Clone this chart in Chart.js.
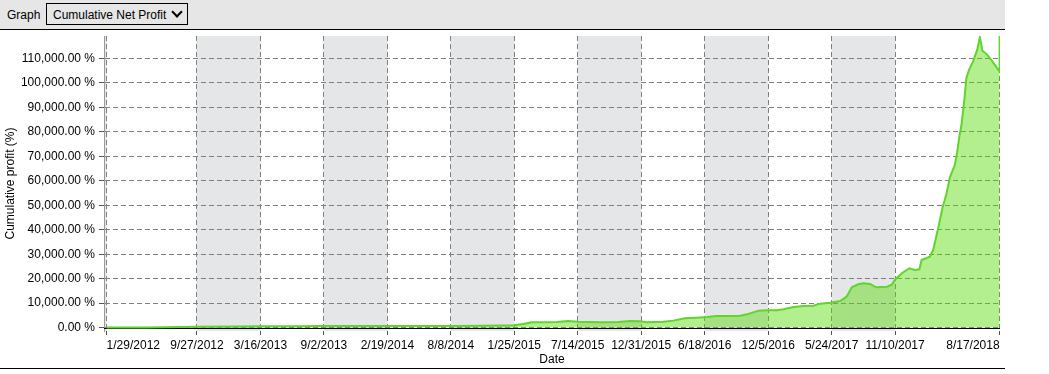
<!DOCTYPE html>
<html lang="en">
<head>
    <meta charset="UTF-8">
    <title>Cumulative Net Profit</title>
    <script src="https://cdn.jsdelivr.net/npm/chart.js"></script>
    <style>
        body { margin: 0; background: #fff; font-family: "Liberation Sans", Arial, sans-serif; font-size: 12px; color: #000; }
        .toolbar { position: absolute; left: 0; top: 0; width: 1005px; height: 29px; background: #e6e6e6; border-bottom: 1px solid #000; }
        .toolbar .lbl { position: absolute; left: 7px; top: 8px; }
        .toolbar .sel { position: absolute; left: 46px; top: 3px; width: 140px; height: 20px; border: 1px solid #000; background: #e6e6e6; }
        .toolbar .sel span { position: absolute; left: 6px; top: 4px; }
        .toolbar .sel i { position: absolute; left: 126px; top: 4px; width: 6px; height: 6px; border-right: 2.5px solid #000; border-bottom: 2.5px solid #000; transform: rotate(45deg); }
        .chart-box { position: absolute; left: 0; top: 31px; width: 1049px; height: 337px; }
        .bottom-line { position: absolute; left: 0; top: 368px; width: 1005px; height: 1px; background: #000; }
    </style>
</head>
<body>
    <div class="toolbar">
        <span class="lbl">Graph</span>
        <div class="sel"><span>Cumulative Net Profit</span><i></i></div>
    </div>
    <div class="chart-box"><canvas id="chart" width="1049" height="337"></canvas></div>
    <div class="bottom-line"></div>

    <script>
        // axis tick dates (M/D/YYYY labels on the chart)
        const tickDates = ['2012-01-29', '2012-09-27', '2013-03-16', '2013-09-02', '2014-02-19', '2014-08-08',
            '2015-01-25', '2015-07-14', '2015-12-31', '2016-06-18', '2016-12-05', '2017-05-24', '2017-11-10', '2018-08-17'];
        // y axis ticks in %
        const yTickValues = [0, 10000, 20000, 30000, 40000, 50000, 60000, 70000, 80000, 90000, 100000, 110000];

        // cumulative profit in %
        const dates = ['2012-01-29', '2012-05-15', '2012-09-27', '2013-01-10', '2013-03-16', '2013-06-10', '2013-09-02',
            '2013-12-01', '2014-02-19', '2014-05-15', '2014-08-08', '2014-11-01', '2014-12-20', '2015-01-25',
            '2015-02-18', '2015-03-12', '2015-04-12', '2015-05-18', '2015-06-19', '2015-07-15', '2015-08-16',
            '2015-09-12', '2015-10-31', '2015-12-01', '2015-12-28', '2016-01-15', '2016-02-28', '2016-03-26',
            '2016-04-26', '2016-05-28', '2016-06-24', '2016-07-20', '2016-08-25', '2016-09-21', '2016-10-13',
            '2016-11-09', '2016-12-01', '2016-12-28', '2017-01-15', '2017-02-11', '2017-03-10', '2017-04-05',
            '2017-04-23', '2017-05-20', '2017-06-16', '2017-07-03', '2017-07-17', '2017-08-03', '2017-08-17',
            '2017-09-04', '2017-09-20', '2017-10-19', '2017-11-01', '2017-11-10', '2017-11-28', '2017-12-18',
            '2018-01-03', '2018-01-14', '2018-01-20', '2018-02-11', '2018-02-20', '2018-03-06', '2018-03-17',
            '2018-03-28', '2018-04-06', '2018-04-19', '2018-04-25', '2018-05-02', '2018-05-07', '2018-05-14',
            '2018-05-20', '2018-05-27', '2018-06-07', '2018-06-18', '2018-06-25', '2018-07-02', '2018-07-13',
            '2018-07-27', '2018-08-09', '2018-08-16', '2018-08-17'];
        const profit = [0, 80, 300, 420, 500, 560, 650,
            640, 600, 620, 680, 780, 850, 950,
            1470, 2150, 2150, 2290, 2700, 2430, 2290,
            2150, 2290, 2700, 2560, 2150, 2430, 2840,
            3800, 4050, 4330, 4740, 4740, 4870, 5560,
            6910, 7060, 7060, 7470, 8420, 8830, 8960,
            9780, 10180, 10870, 12630, 16470, 17700, 18100,
            17820, 16470, 16720, 17530, 19700, 22200, 24240,
            23540, 23800, 27600, 28980, 31700, 41000, 49000,
            54900, 61500, 66500, 71500, 79000, 83000, 92500,
            102000, 105400, 108800, 113600, 118700, 113200, 111800,
            109100, 106400, 104800, 121000];

        const DAY = 86400000;
        function toDay(s) {
            const p = s.split('-').map(Number);
            return Date.UTC(p[0], p[1] - 1, p[2]) / DAY;
        }
        function dayLabel(d) {
            const dt = new Date(d * DAY);
            return (dt.getUTCMonth() + 1) + '/' + dt.getUTCDate() + '/' + dt.getUTCFullYear();
        }

        const tickDays = tickDates.map(toDay);
        const points = dates.map((d, i) => ({ x: toDay(d), y: profit[i] }));

        // alternating grey bands between the date ticks + black zero line
        const bandsPlugin = {
            id: 'bands',
            beforeDraw(chart) {
                const { ctx, chartArea: a, scales: { x } } = chart;
                const edges = [x.min].concat(tickDays);
                ctx.save();
                ctx.fillStyle = '#e5e6e8';
                for (let i = 0; i + 1 < edges.length; i += 2) {
                    const x1 = x.getPixelForValue(edges[i]);
                    const x2 = x.getPixelForValue(edges[i + 1]);
                    ctx.fillRect(x1, a.top, x2 - x1, a.bottom - a.top);
                }
                ctx.restore();
            },
            beforeDatasetsDraw(chart) {
                const { ctx, chartArea: a, scales: { y } } = chart;
                const y0 = Math.round(y.getPixelForValue(0)) + 0.5;
                ctx.save();
                ctx.strokeStyle = '#000';
                ctx.lineWidth = 1;
                ctx.beginPath();
                ctx.moveTo(a.left, y0);
                ctx.lineTo(a.right, y0);
                ctx.stroke();
                ctx.restore();
            }
        };

        Chart.defaults.font.family = '"Liberation Sans", Arial, sans-serif';
        Chart.defaults.font.size = 12;
        Chart.defaults.color = '#000';

        new Chart(document.getElementById('chart'), {
            type: 'line',
            data: {
                datasets: [{
                    label: 'Cumulative Net Profit',
                    data: points,
                    borderColor: 'rgb(94, 214, 43)',
                    backgroundColor: 'rgba(86, 217, 6, 0.45)',
                    borderWidth: 2,
                    fill: 'origin',
                    pointRadius: 0,
                    tension: 0
                }]
            },
            options: {
                responsive: false,
                animation: false,
                devicePixelRatio: 1,
                layout: { padding: { left: 0, right: 49, top: 5, bottom: 0 } },
                plugins: {
                    legend: { display: false },
                    tooltip: { enabled: false }
                },
                scales: {
                    x: {
                        type: 'linear',
                        min: tickDays[0] - 7,
                        max: tickDays[0] + 2393,
                        afterBuildTicks: s => { s.ticks = tickDays.map(v => ({ value: v })); },
                        afterFit: s => { s.height = 37; s.paddingLeft = 0; s.paddingRight = 0; },
                        ticks: {
                            autoSkip: false,
                            maxRotation: 0,
                            align: 'inner',
                            padding: 3,
                            callback: v => dayLabel(v)
                        },
                        grid: { color: '#808080', tickColor: '#555', tickLength: 4 },
                        border: { display: false, dash: [5, 3] },
                        title: { display: true, text: 'Date', padding: { top: 0, bottom: 1 } }
                    },
                    y: {
                        min: -1400,
                        max: 119200,
                        afterBuildTicks: s => { s.ticks = yTickValues.map(v => ({ value: v })); },
                        afterFit: s => { s.width = 104; s.paddingTop = 0; s.paddingBottom = 0; },
                        ticks: {
                            autoSkip: false,
                            padding: 4,
                            callback: v => v.toLocaleString('en-US', { minimumFractionDigits: 2, maximumFractionDigits: 2 }) + ' %'
                        },
                        grid: { color: '#808080', tickColor: '#555', tickLength: 5 },
                        border: { display: true, color: '#999', dash: [5, 3] },
                        title: { display: true, text: 'Cumulative profit (%)', padding: { top: 3, bottom: 0 } }
                    }
                }
            },
            plugins: [bandsPlugin]
        });
    </script>
</body>
</html>
